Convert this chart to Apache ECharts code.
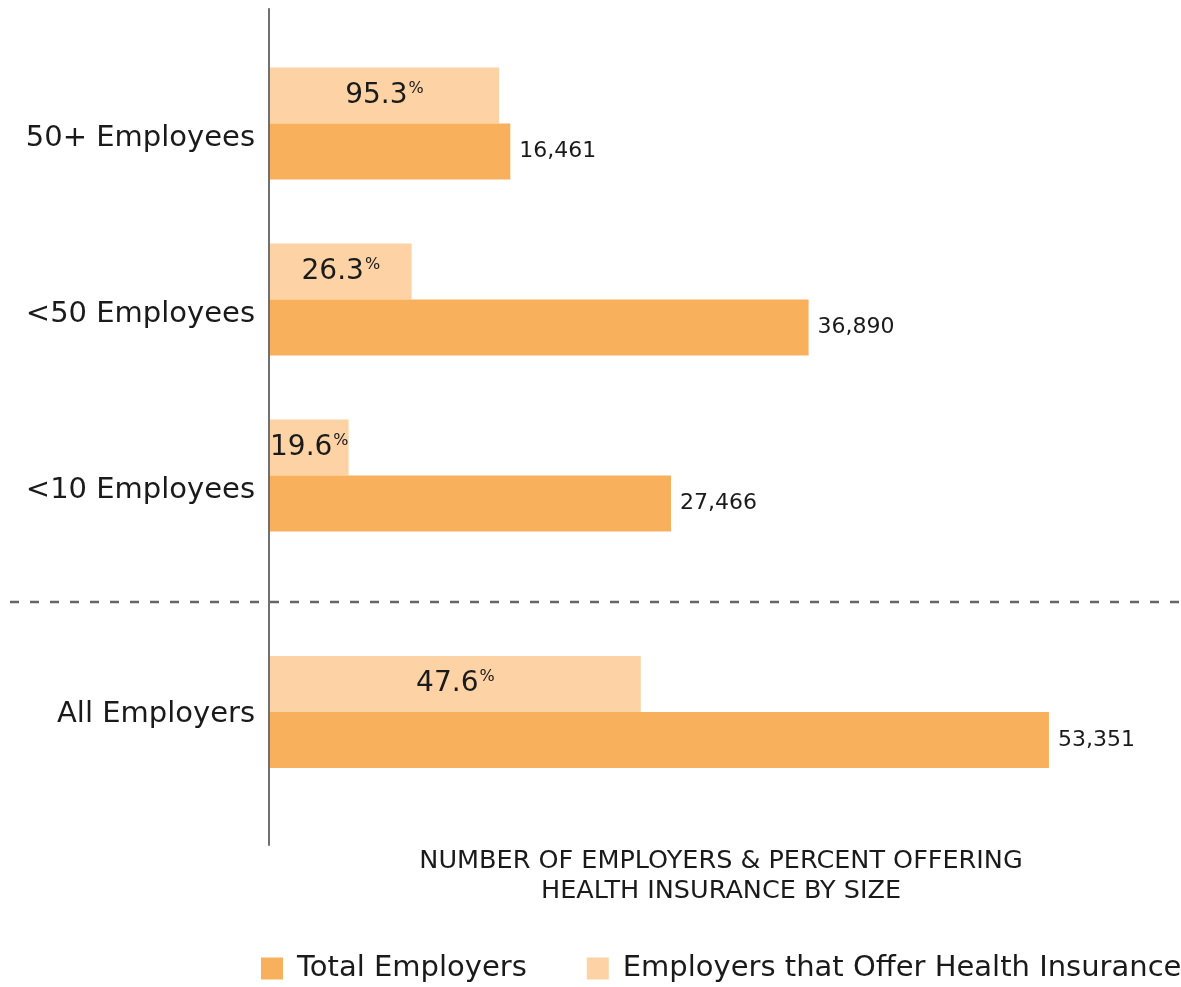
<!DOCTYPE html>
<html>
<head>
<meta charset="utf-8">
<script src="https://cdn.jsdelivr.net/npm/echarts@6/dist/echarts.min.js"></script>
<style>
  html, body { margin: 0; padding: 0; background: #fff; }
  #container { width: 1181px; height: 987px; }
</style>
</head>
<body>
<div id="container"></div>
<script>
// values, top to bottom
var categories = ['50+ Employees', '<50 Employees', '<10 Employees', 'All Employers'];
var totalEmployers = [16461, 36890, 27466, 53351];
var offeringEmployers = [15687, 9702, 5383, 25395];
var offeringPct = ['95.3', '26.3', '19.6', '47.6'];

var darkColor = '#F9B05C';
var lightColor = '#FDD3A5';
var font = '"DejaVu Sans"';

var dom = document.getElementById('container');
var myChart = echarts.init(dom);

function pctLabel(offset) {
    return function (param) {
        return '{n|' + offeringPct[param.dataIndex + offset] + '}{p|%}';
    };
}

function makeSeries(idx, offset, from, to) {
    return [
        {
            name: 'Employers that Offer Health Insurance',
            type: 'bar',
            xAxisIndex: idx,
            yAxisIndex: idx,
            barWidth: 56,
            barGap: '0%',
            itemStyle: { color: lightColor },
            label: {
                show: true,
                position: 'inside',
                formatter: pctLabel(offset),
                rich: {
                    n: { fontFamily: font, fontSize: 28, color: '#1a1a1a', lineHeight: 30 },
                    p: { fontFamily: font, fontSize: 16, color: '#1a1a1a', verticalAlign: 'top', lineHeight: 16, padding: [0, 0, 10, 1] }
                }
            },
            data: offeringEmployers.slice(from, to)
        },
        {
            name: 'Total Employers',
            type: 'bar',
            xAxisIndex: idx,
            yAxisIndex: idx,
            barWidth: 56,
            barGap: '0%',
            itemStyle: { color: darkColor },
            label: {
                show: true,
                position: 'right',
                distance: 9,
                fontFamily: font,
                fontSize: 22,
                color: '#1a1a1a',
                formatter: function (param) {
                    return param.value.toLocaleString('en-US');
                }
            },
            data: totalEmployers.slice(from, to)
        }
    ];
}

var valueAxis = function (idx) {
    return {
        gridIndex: idx,
        type: 'value',
        min: 0,
        max: 60000,
        show: false
    };
};

// drop = how far the label sits below the middle of its bar pair
var catAxis = function (idx, data, drop) {
    return {
        gridIndex: idx,
        type: 'category',
        inverse: true,
        data: data,
        axisLine: { show: false },
        axisTick: { show: false },
        axisLabel: {
            fontFamily: font,
            fontSize: 29,
            color: '#1a1a1a',
            margin: 15,
            verticalAlign: 'top',
            lineHeight: drop * 2
        }
    };
};

var option = {
    animation: false,
    title: {
        text: 'NUMBER OF EMPLOYERS & PERCENT OFFERING\nHEALTH INSURANCE BY SIZE',
        left: 716,
        top: 841,
        textAlign: 'center',
        textStyle: {
            fontFamily: font,
            fontWeight: 'normal',
            fontSize: 25.5,
            lineHeight: 30,
            color: '#1a1a1a'
        }
    },
    legend: {
        left: 261,
        top: 954,
        width: 930,
        padding: 0,
        itemWidth: 22,
        itemHeight: 22,
        itemGap: 60,
        icon: 'rect',
        data: ['Total Employers', 'Employers that Offer Health Insurance'],
        textStyle: {
            fontFamily: font,
            fontSize: 29,
            color: '#1a1a1a',
            padding: [0, 0, 0, 9]
        }
    },
    grid: [
        { left: 270, right: 35, top: 35.5, height: 528 },
        { left: 270, right: 35, top: 624, height: 176 },
        { left: 269, right: 35, top: 9, height: 836 }
    ],
    xAxis: [valueAxis(0), valueAxis(1), valueAxis(2)],
    yAxis: [
        catAxis(0, categories.slice(0, 3), 15),
        catAxis(1, categories.slice(3), 2),
        {
            gridIndex: 2,
            type: 'category',
            data: [''],
            axisLine: { show: true, lineStyle: { color: '#707070', width: 2 } },
            axisTick: { show: false },
            axisLabel: { show: false }
        }
    ],
    graphic: [
        {
            type: 'line',
            z: -1,
            shape: { x1: 10, y1: 602, x2: 1181, y2: 602 },
            style: { stroke: '#666', lineWidth: 2.5, lineDash: [9, 11] }
        }
    ],
    series: makeSeries(0, 0, 0, 3).concat(makeSeries(1, 3, 3, 4))
};

myChart.setOption(option);
</script>
</body>
</html>
